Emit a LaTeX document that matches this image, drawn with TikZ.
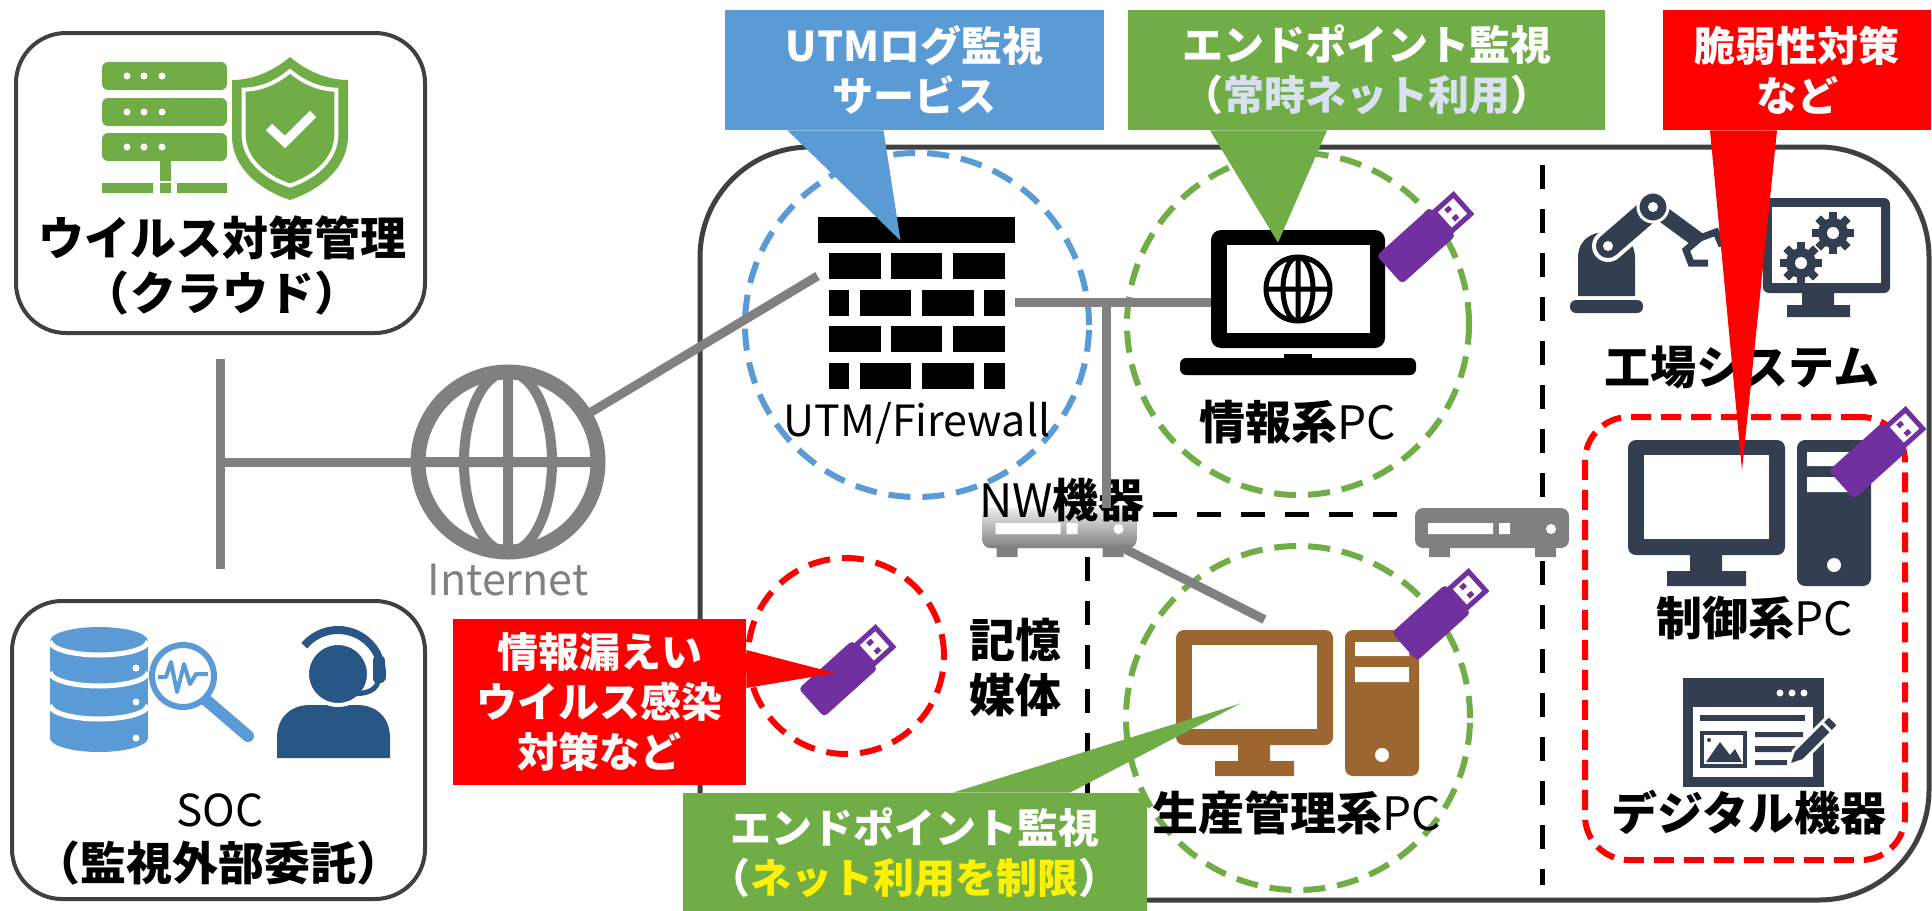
\documentclass[tikz,border=0pt]{standalone}
\usepackage{fontspec}
\setmainfont{Noto Sans CJK JP}
\usetikzlibrary{calc}

\definecolor{frame}{HTML}{404040}
\definecolor{linkgray}{HTML}{808080}
\definecolor{utmblue}{HTML}{5B9BD5}
\definecolor{epgreen}{HTML}{70AD47}
\definecolor{alertred}{HTML}{FF0000}
\definecolor{usbpurple}{HTML}{7030A0}
\definecolor{slate}{HTML}{333F50}
\definecolor{pcbrown}{HTML}{9C6630}
\definecolor{socnavy}{HTML}{285685}
\definecolor{paleblue}{HTML}{D9E1F2}

\newcommand\lblfont{\fontsize{23}{27.5}\selectfont\bfseries}
\newcommand\notefont{\fontsize{20.5}{25}\selectfont\bfseries}

\begin{document}
\begin{tikzpicture}[x=0.5pt, y=-0.5pt,
  panel/.style={draw=frame, line width=2pt, rounded corners=25pt, inner sep=0pt},
  link/.style={draw=linkgray, line width=4.5pt},
  zone/.style={draw=black, line width=2.5pt, dash pattern=on 12pt off 10pt},
  ring/.style={circle, line width=3pt, dash pattern=on 11pt off 6pt, inner sep=0pt},
  router/.style={fill=linkgray, rounded corners=4pt, minimum width=77pt,
    minimum height=20pt, inner sep=0pt},
  fadetop/.style={top color=linkgray!15, bottom color=linkgray},
  flatgray/.style={fill=linkgray},
  note/.style={text=white, font=\notefont, align=center, inner sep=0pt},
  label/.style={font=\lblfont, align=center, inner sep=0pt},
]
\useasboundingbox (0,0) rectangle (1932,910);

% cloud side
\node[panel, minimum width=204.5pt, minimum height=150pt] (av) at (220.5,183) {};
\node[panel, minimum width=206.5pt, minimum height=149pt] (soc) at (218.5,750) {};

% plant
\node[draw=frame, line width=2.5pt, rounded corners=55pt, minimum width=614.5pt,
  minimum height=376.5pt, inner sep=0pt] (site) at (1314.5,523.5) {};

\node[ring, draw=utmblue, minimum size=172pt] (utmzone) at (917,325) {};
\node[ring, draw=epgreen, minimum size=171pt] (infozone) at (1298,324) {};
\node[ring, draw=epgreen, minimum size=172pt] (prodzone) at (1298,718) {};
\node[ring, draw=alertred, minimum size=98pt] (mediazone) at (846,656) {};
\node[draw=alertred, line width=3pt, dash pattern=on 10pt off 5pt, rounded corners=22pt,
  minimum width=160pt, minimum height=221.5pt, inner sep=0pt] (ctrlzone) at (1745,638.5) {};

\draw[zone] (1542,165) -- (1542,885);
\draw[zone] (1087,557) -- (1087,895);

% server + shield
\foreach \y in {62,98,133} {
  \fill[epgreen, rounded corners=3pt] (102,\y) rectangle (227,\y+28);
  \foreach \x in {127,144,162}
    \fill[white] (\x,\y+14) circle[radius=3.5];
}
\fill[epgreen] (160,161) rectangle (171,181);
\fill[epgreen] (102,183) rectangle (153,193) (160,183) rectangle (171,193)
  (177,183) rectangle (227,193);
\begin{scope}[shift={(290,128)}]
  \fill[epgreen] (0,-71) .. controls (18,-56) and (38,-48) .. (58,-48) -- (58,8)
    .. controls (58,40) and (30,62) .. (0,72) .. controls (-30,62) and (-58,40) .. (-58,8)
    -- (-58,-48) .. controls (-38,-48) and (-18,-56) .. (0,-71) -- cycle;
  \draw[white, line width=2pt, scale=0.8] (0,-71) .. controls (18,-56) and (38,-48) .. (58,-48) -- (58,8)
    .. controls (58,40) and (30,62) .. (0,72) .. controls (-30,62) and (-58,40) .. (-58,8)
    -- (-58,-48) .. controls (-38,-48) and (-18,-56) .. (0,-71) -- cycle;
  \draw[white, line width=4.5pt] (-21,-1) -- (-5,14) -- (23,-14);
\end{scope}
\node[label] (avlbl) at (222,265) {ウイルス対策管理\\（クラウド）};

% database, magnifier, operator
\fill[utmblue] (50,641) rectangle (148,738);
\fill[utmblue] (99,641) ellipse[x radius=49, y radius=14] (99,738) ellipse[x radius=49, y radius=14];
\foreach \y in {641,672,705}
  \draw[white, line width=2.5pt] (50,\y) arc[start angle=180, end angle=0, x radius=49, y radius=14];
\foreach \y in {668,702,738}
  \fill[white] (136,\y) circle[radius=3.5];
\draw[utmblue, line width=6pt, line cap=round] (206,700) -- (248,736);
\filldraw[fill=white, draw=utmblue, line width=3pt] (183,676) circle[radius=31];
\draw[utmblue, line width=2pt, line join=round] (158,677) -- (166,677) -- (171,662)
  -- (177,692) -- (184,664) -- (190,684) -- (196,674) -- (208,674);
\fill[socnavy] (277,758) -- (277,738) .. controls (277,716) and (292,705) .. (310,705)
  -- (357,705) .. controls (375,705) and (390,716) .. (390,738) -- (390,758) -- cycle;
\filldraw[fill=socnavy, draw=white, line width=2pt] (338,674) circle[radius=31];
\draw[socnavy, line width=4pt] (338,674) ++(220:44) arc[start angle=220, end angle=368, radius=44];
\fill[socnavy, rounded corners=2pt] (373,656) rectangle (385,683);
\draw[socnavy, line width=2.5pt] (378,682) .. controls (375,693) and (360,695) .. (345,693);
\node[font=\fontsize{22}{26}\selectfont, inner sep=0pt] (soclbl) at (220,810) {SOC};
\node[label] (socsub) at (218,863) {（監視外部委託）};

% internet
\node[circle, minimum size=97pt, inner sep=0pt] (inet) at (508,462) {};
\draw[linkgray, line width=7.5pt] (inet.center) circle[radius=90];
\draw[linkgray, line width=5pt] (inet.center) ellipse[x radius=44, y radius=90]
  (508,372) -- (508,552) (418,462) -- (598,462);
\node[font=\fontsize{21.5}{25}\selectfont, text=linkgray, inner sep=0pt] (inetlbl) at (508,580) {Internet};

% firewall
\node[minimum width=98.5pt, minimum height=85.5pt, inner sep=0pt] (fw) at (916.5,302.5) {};
\fill (818,217) rectangle (1015,243);
\foreach \y in {253,326} {
  \foreach \a/\b in {829/881,891/942,953/1005}
    \fill (\a,\y) rectangle (\b,\y+26);
}
\foreach \y in {290,363} {
  \foreach \a/\b in {829/849,860/911,922/974,984/1005}
    \fill (\a,\y) rectangle (\b,\y+26);
}
\node[font=\fontsize{21.5}{26}\selectfont, inner sep=0pt] (fwlbl) at (917,423) {UTM/Firewall};

% laptop
\node[minimum width=87pt, minimum height=59pt, inner sep=0pt] (laptop) at (1298,289) {};
\fill[rounded corners=5pt] (1211,230) rectangle (1385,348);
\fill[white] (1227,245) rectangle (1370,333);
\fill[rounded corners=3pt] (1180,358) rectangle (1416,375);
\fill (1284,354) rectangle (1312,360);
\draw[line width=2.5pt] (1298,289) circle[radius=32] (1298,289) ellipse[x radius=15, y radius=32]
  (1298,257) -- (1298,321) (1266,289) -- (1330,289);
\node[label] (infolbl) at (1298,422) {情報系\textmd{PC}};

% routers
\foreach \r/\cx/\look in {nw/1059.5/fadetop, sw/1492/flatgray} {
  \node[router, \look] (\r) at (\cx,528) {};
  \fill[linkgray] (\cx-63,546) rectangle (\cx-42,557) (\cx+43,546) rectangle (\cx+64,557);
  \fill[white] (\cx-64,523) rectangle (\cx+1,534) (\cx+7,523) rectangle (\cx+18,534);
  \fill[white] (\cx+59,529) circle[radius=5];
}
\draw[zone] ([xshift=8pt,yshift=7pt]nw.east) -- ([yshift=7pt]sw.west);
\node[label] (nwlbl) at (1062,500) {\textmd{NW}機器};
\node[label] (medialbl) at (1015,668) {記憶\\媒体};

% desktop PCs
\foreach \n/\c/\x/\y in {prodpc/pcbrown/1176/630, ctrlpc/slate/1628/440} {
  \node[fill=\c, rounded corners=4pt, minimum width=78.5pt, minimum height=57.5pt,
    inner sep=0pt] (\n) at (\x+78.5,\y+57.5) {};
  \fill[white] (\x+16,\y+15) rectangle (\x+141,\y+99);
  \fill[\c] (\x+62,\y+114) rectangle (\x+94,\y+132) (\x+39,\y+131) rectangle (\x+118,\y+146);
  \fill[\c, rounded corners=4pt] (\x+169,\y) rectangle (\x+243,\y+146);
  \fill[white] (\x+179,\y+12) rectangle (\x+233,\y+26) (\x+179,\y+37) rectangle (\x+233,\y+52)
    (\x+206,\y+125) circle[radius=7];
}
\node[label] (prodlbl) at (1297,813) {生産管理系\textmd{PC}};
\node[label] (ctrllbl) at (1755,618) {制御系\textmd{PC}};

% robot arm
\fill[slate, rounded corners=3pt] (1570,300) rectangle (1643,313);
\fill[slate] (1578,296) -- (1578,258) .. controls (1578,240) and (1591,232) .. (1606,232)
  .. controls (1622,232) and (1635,241) .. (1635,258) -- (1635,296) -- cycle;
\draw[white, line width=16pt, line cap=round] (1608,246) -- (1653,207);
\draw[slate, line width=12pt, line cap=round] (1608,246) -- (1653,207);
\draw[slate, line width=8pt] (1653,207) -- (1698,240);
\filldraw[fill=slate, draw=white, line width=1.5pt] (1653,207) circle[radius=15];
\fill[white] (1653,207) circle[radius=5] (1608,246) circle[radius=5];
\draw[slate, line width=3.5pt] (1700,238) -- (1686,250) -- (1691,263) -- (1708,263);
\draw[slate, line width=3.5pt] (1700,238) -- (1716,232) -- (1722,246);

% monitor with gears
\fill[slate, rounded corners=3pt] (1763,198) rectangle (1890,293);
\fill[white] (1772,207) rectangle (1881,283);
\fill[slate] (1802,292) rectangle (1834,306) (1787,305) rectangle (1850,317);
\foreach \gx/\gy in {1833/233, 1801/263} {
  \fill[slate] (\gx,\gy) circle[radius=15];
  \foreach \a in {0,45,...,315}
    \fill[slate, rotate around={\a:(\gx,\gy)}] (\gx-4,\gy-21) rectangle (\gx+4,\gy);
  \fill[white] (\gx,\gy) circle[radius=6];
}
\node[label] (factorylbl) at (1742,367) {工場システム};

% digital device
\fill[slate] (1683,678) rectangle (1824,787);
\fill[white] (1693,707) rectangle (1813,777);
\foreach \x in {1780,1792,1804}
  \fill[white] (\x,693) circle[radius=3.5];
\fill[slate] (1700,715) rectangle (1805,721);
\fill[slate] (1700,731) rectangle (1747,768);
\fill[white] (1704,735) rectangle (1743,764);
\fill[slate] (1706,762) -- (1720,742) -- (1730,755) -- (1735,749) -- (1742,762) -- cycle;
\fill[slate] (1709,740) circle[radius=2];
\fill[slate] (1755,732) rectangle (1803,737) (1755,746) rectangle (1797,752)
  (1755,760) rectangle (1787,765);
\begin{scope}[shift={(1814,740)}, rotate=45]
  \filldraw[fill=slate, draw=white, line width=1.5pt] (-22,-7) -- (28,-7) -- (28,7)
    -- (-22,7) -- (-36,0) -- cycle;
  \draw[white, line width=1.5pt] (18,-7) -- (18,7);
\end{scope}
\node[label] (digilbl) at (1749,813) {デジタル機器};

% usb sticks
\foreach \ux/\uy in {1428/235, 1443/612, 1880/450, 850/668} {
  \begin{scope}[shift={(\ux,\uy)}, rotate=42]
    \fill[usbpurple, rounded corners=2pt] (-52,-19) rectangle (20,19);
    \filldraw[fill=white, draw=usbpurple, line width=2.5pt] (20,-13) rectangle (46,13);
    \fill[usbpurple] (29,-8) rectangle (35,-3) (29,3) rectangle (35,8);
  \end{scope}
}

% links
\draw[link] ([yshift=-12pt]av.south) -- ++(0,210);
\draw[link] (av.south |- inet) -- (inet);
\draw[link] (inet) -- (fw.165);
\coordinate (tee) at (1106,302.5);
\draw[link] (fw.east) -- (fw.east -| laptop.west);
\draw[link] (tee) -- (tee |- nw.north);
\draw[link] ([xshift=-6.5pt]nw.south east) -- ([shift={(5pt,5pt)}]prodpc.north);

% callouts
\node[note, fill=utmblue, minimum width=189.5pt, minimum height=60pt] (utmnote) at (914.5,70)
  {UTMログ監視\\サービス};
\fill[utmblue] ($(utmnote.south)+(-127,0)$) -- ($(utmnote.south)+(-31,0)$)
  -- ($(fw.north)+(-16,24)$) -- cycle;

\node[note, fill=epgreen, minimum width=238.5pt, minimum height=60pt] (infonote) at (1366.5,70)
  {エンドポイント監視\\（\textcolor{paleblue}{常時ネット利用}）};
\fill[epgreen] ($(infonote.south)+(-156.5,0)$) -- ($(infonote.south)+(-39.5,0)$)
  -- ($(laptop.north)+(-20,13)$) -- cycle;

\node[note, fill=alertred, minimum width=134pt, minimum height=60pt] (vulnnote) at (1797,70)
  {脆弱性対策\\など};
\fill[alertred] ($(vulnnote.south)+(-87,0)$) -- ($(vulnnote.south)+(-20,0)$)
  -- ($(ctrlpc.center)+(35.5,-27.5)$) -- cycle;

\node[note, fill=alertred, minimum width=146.5pt, minimum height=83pt] (leaknote) at (599.5,702)
  {情報漏えい\\ウイルス感染\\対策など};
\fill[alertred] ($(leaknote.east)+(0,-52)$) -- ($(leaknote.east)+(0,-14)$)
  -- ($(mediazone.center)+(-11,17)$) -- cycle;

\node[note, fill=epgreen, minimum width=232pt, minimum height=60pt] (prodnote) at (914.5,853)
  {エンドポイント監視\\（\textcolor{yellow}{ネット利用を制限}）};
\fill[epgreen] ($(prodnote.north)+(38.5,0)$) -- ($(prodnote.north)+(155.5,0)$)
  -- ($(prodpc.center)+(-14,16)$) -- cycle;
\end{tikzpicture}
\end{document}
